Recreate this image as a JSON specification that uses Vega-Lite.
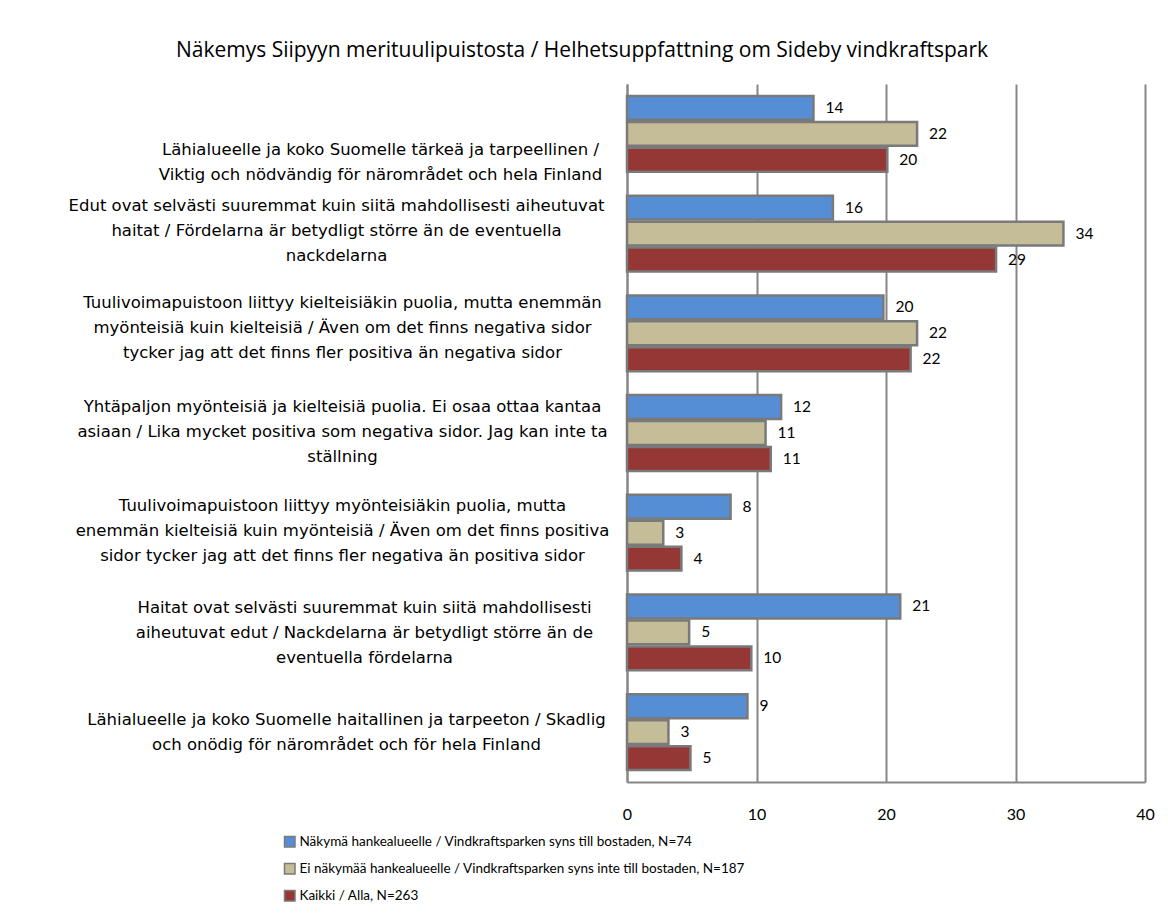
{
  "$schema": "https://vega.github.io/schema/vega-lite/v6.json",
  "width": 518,
  "height": 698,
  "autosize": {"type": "none"},
  "padding": {"left": 627, "top": 84, "right": 23, "bottom": 142},
  "background": "white",
  "config": {
    "font": "Lato",
    "view": {"stroke": null},
    "axis": {"labelFont": "Lato", "labelColor": "#000000"},
    "legend": {"labelFont": "Lato"}
  },
  "title": {
    "text": "Näkemys Siipyyn merituulipuistosta / Helhetsuppfattning om Sideby vindkraftspark",
    "fontSize": 21,
    "fontWeight": "normal",
    "font": "Open Sans",
    "color": "#000000",
    "anchor": "middle",
    "frame": "group",
    "dx": -304,
    "offset": 23
  },
  "data": {
    "values": [
      {"cat": "Lähialueelle ja koko Suomelle tärkeä ja tarpeellinen /|Viktig och nödvändig för närområdet och hela Finland", "series": "Näkymä hankealueelle / Vindkraftsparken syns till bostaden, N=74", "value": 14.4},
      {"cat": "Lähialueelle ja koko Suomelle tärkeä ja tarpeellinen /|Viktig och nödvändig för närområdet och hela Finland", "series": "Ei näkymää hankealueelle / Vindkraftsparken syns inte till bostaden, N=187", "value": 22.4},
      {"cat": "Lähialueelle ja koko Suomelle tärkeä ja tarpeellinen /|Viktig och nödvändig för närområdet och hela Finland", "series": "Kaikki / Alla, N=263", "value": 20.1},
      {"cat": "Edut ovat selvästi suuremmat kuin siitä mahdollisesti aiheutuvat|haitat / Fördelarna är betydligt större än de eventuella|nackdelarna", "series": "Näkymä hankealueelle / Vindkraftsparken syns till bostaden, N=74", "value": 15.9},
      {"cat": "Edut ovat selvästi suuremmat kuin siitä mahdollisesti aiheutuvat|haitat / Fördelarna är betydligt större än de eventuella|nackdelarna", "series": "Ei näkymää hankealueelle / Vindkraftsparken syns inte till bostaden, N=187", "value": 33.7},
      {"cat": "Edut ovat selvästi suuremmat kuin siitä mahdollisesti aiheutuvat|haitat / Fördelarna är betydligt större än de eventuella|nackdelarna", "series": "Kaikki / Alla, N=263", "value": 28.5},
      {"cat": "Tuulivoimapuistoon liittyy kielteisiäkin puolia, mutta enemmän|myönteisiä kuin kielteisiä / Även om det finns negativa sidor|tycker jag att det finns fler positiva än negativa sidor", "series": "Näkymä hankealueelle / Vindkraftsparken syns till bostaden, N=74", "value": 19.8},
      {"cat": "Tuulivoimapuistoon liittyy kielteisiäkin puolia, mutta enemmän|myönteisiä kuin kielteisiä / Även om det finns negativa sidor|tycker jag att det finns fler positiva än negativa sidor", "series": "Ei näkymää hankealueelle / Vindkraftsparken syns inte till bostaden, N=187", "value": 22.4},
      {"cat": "Tuulivoimapuistoon liittyy kielteisiäkin puolia, mutta enemmän|myönteisiä kuin kielteisiä / Även om det finns negativa sidor|tycker jag att det finns fler positiva än negativa sidor", "series": "Kaikki / Alla, N=263", "value": 21.9},
      {"cat": "Yhtäpaljon myönteisiä ja kielteisiä puolia. Ei osaa ottaa kantaa|asiaan / Lika mycket positiva som negativa sidor. Jag kan inte ta|ställning", "series": "Näkymä hankealueelle / Vindkraftsparken syns till bostaden, N=74", "value": 11.9},
      {"cat": "Yhtäpaljon myönteisiä ja kielteisiä puolia. Ei osaa ottaa kantaa|asiaan / Lika mycket positiva som negativa sidor. Jag kan inte ta|ställning", "series": "Ei näkymää hankealueelle / Vindkraftsparken syns inte till bostaden, N=187", "value": 10.7},
      {"cat": "Yhtäpaljon myönteisiä ja kielteisiä puolia. Ei osaa ottaa kantaa|asiaan / Lika mycket positiva som negativa sidor. Jag kan inte ta|ställning", "series": "Kaikki / Alla, N=263", "value": 11.1},
      {"cat": "Tuulivoimapuistoon liittyy myönteisiäkin puolia, mutta|enemmän kielteisiä kuin myönteisiä / Även om det finns positiva|sidor tycker jag att det finns fler negativa än positiva sidor", "series": "Näkymä hankealueelle / Vindkraftsparken syns till bostaden, N=74", "value": 8.0},
      {"cat": "Tuulivoimapuistoon liittyy myönteisiäkin puolia, mutta|enemmän kielteisiä kuin myönteisiä / Även om det finns positiva|sidor tycker jag att det finns fler negativa än positiva sidor", "series": "Ei näkymää hankealueelle / Vindkraftsparken syns inte till bostaden, N=187", "value": 2.8},
      {"cat": "Tuulivoimapuistoon liittyy myönteisiäkin puolia, mutta|enemmän kielteisiä kuin myönteisiä / Även om det finns positiva|sidor tycker jag att det finns fler negativa än positiva sidor", "series": "Kaikki / Alla, N=263", "value": 4.2},
      {"cat": "Haitat ovat selvästi suuremmat kuin siitä mahdollisesti|aiheutuvat edut / Nackdelarna är betydligt större än de|eventuella fördelarna", "series": "Näkymä hankealueelle / Vindkraftsparken syns till bostaden, N=74", "value": 21.1},
      {"cat": "Haitat ovat selvästi suuremmat kuin siitä mahdollisesti|aiheutuvat edut / Nackdelarna är betydligt större än de|eventuella fördelarna", "series": "Ei näkymää hankealueelle / Vindkraftsparken syns inte till bostaden, N=187", "value": 4.8},
      {"cat": "Haitat ovat selvästi suuremmat kuin siitä mahdollisesti|aiheutuvat edut / Nackdelarna är betydligt större än de|eventuella fördelarna", "series": "Kaikki / Alla, N=263", "value": 9.6},
      {"cat": "Lähialueelle ja koko Suomelle haitallinen ja tarpeeton / Skadlig|och onödig för närområdet och för hela Finland", "series": "Näkymä hankealueelle / Vindkraftsparken syns till bostaden, N=74", "value": 9.3},
      {"cat": "Lähialueelle ja koko Suomelle haitallinen ja tarpeeton / Skadlig|och onödig för närområdet och för hela Finland", "series": "Ei näkymää hankealueelle / Vindkraftsparken syns inte till bostaden, N=187", "value": 3.2},
      {"cat": "Lähialueelle ja koko Suomelle haitallinen ja tarpeeton / Skadlig|och onödig för närområdet och för hela Finland", "series": "Kaikki / Alla, N=263", "value": 4.9}
    ]
  },
  "encoding": {
    "y": {
      "field": "cat",
      "type": "nominal",
      "sort": null,
      "scale": {"paddingInner": 0.24, "paddingOuter": 0.12},
      "axis": {
        "title": null,
        "ticks": false,
        "tickSize": 0,
        "domainColor": "#868686",
        "domainWidth": 2,
        "labelExpr": "split(datum.label, '|')",
        "labelAlign": "center",
        "labelBaseline": "middle",
        "labelFont": "DejaVu Sans",
        "labelFontSize": 16.5,
        "labelLineHeight": 25,
        "labelLimit": 0,
        "labelPadding": {
          "condition": [
            {"test": "indexof(datum.value, 'Lähialueelle ja koko Suomelle tärkeä') == 0", "value": 247},
            {"test": "indexof(datum.value, 'Edut ovat') == 0", "value": 291},
            {"test": "indexof(datum.value, 'Haitat ovat') == 0", "value": 263},
            {"test": "indexof(datum.value, 'Lähialueelle ja koko Suomelle haitallinen') == 0", "value": 281}
          ],
          "value": 285
        },
        "labelOffset": {
          "condition": [
            {"test": "indexof(datum.value, 'Lähialueelle ja koko Suomelle tärkeä') == 0", "value": 16},
            {"test": "indexof(datum.value, 'Edut ovat') == 0", "value": -28},
            {"test": "indexof(datum.value, 'Tuulivoimapuistoon liittyy kielteisiäkin') == 0", "value": -30},
            {"test": "indexof(datum.value, 'Yhtäpaljon') == 0", "value": -26},
            {"test": "indexof(datum.value, 'Tuulivoimapuistoon liittyy myönteisiäkin') == 0", "value": -27},
            {"test": "indexof(datum.value, 'Haitat ovat') == 0", "value": -24}
          ],
          "value": -12
        }
      }
    },
    "yOffset": {
      "field": "series",
      "type": "nominal",
      "sort": null,
      "scale": {"paddingInner": 0.08}
    },
    "x": {
      "field": "value",
      "type": "quantitative",
      "scale": {"domain": [0, 40], "nice": false},
      "axis": {
        "title": null,
        "values": [0, 10, 20, 30, 40],
        "ticks": false,
        "tickSize": 0,
        "labelPadding": 24,
        "labelFontSize": 16,
        "labelFlush": false,
        "grid": true,
        "gridColor": "#868686",
        "gridWidth": 2,
        "domainColor": "#868686",
        "domainWidth": 2
      }
    }
  },
  "layer": [
    {
      "mark": {"type": "bar", "stroke": "#7a7a7a", "strokeWidth": 2.5, "strokeJoin": "miter"},
      "encoding": {
        "color": {
          "field": "series",
          "type": "nominal",
          "sort": null,
          "scale": {
            "domain": [
              "Näkymä hankealueelle / Vindkraftsparken syns till bostaden, N=74",
              "Ei näkymää hankealueelle / Vindkraftsparken syns inte till bostaden, N=187",
              "Kaikki / Alla, N=263"
            ],
            "range": ["#558ED5", "#C4BD97", "#953735"]
          },
          "legend": {
            "title": null,
            "orient": "none",
            "legendX": -344,
            "legendY": 751,
            "direction": "vertical",
            "symbolType": "square",
            "symbolSize": 110,
            "symbolStrokeColor": "#7a7a7a",
            "symbolStrokeWidth": 1.5,
            "labelFont": "Lato",
            "labelFontSize": 13.5,
            "labelColor": "#000000",
            "labelLimit": 0,
            "rowPadding": 10,
            "labelOffset": 3
          }
        }
      }
    },
    {
      "mark": {"type": "text", "align": "left", "baseline": "middle", "dx": 12, "fontSize": 15.5, "font": "Lato", "color": "#000000"},
      "encoding": {
        "text": {"field": "value", "type": "quantitative", "format": ".0f"}
      }
    }
  ]
}
